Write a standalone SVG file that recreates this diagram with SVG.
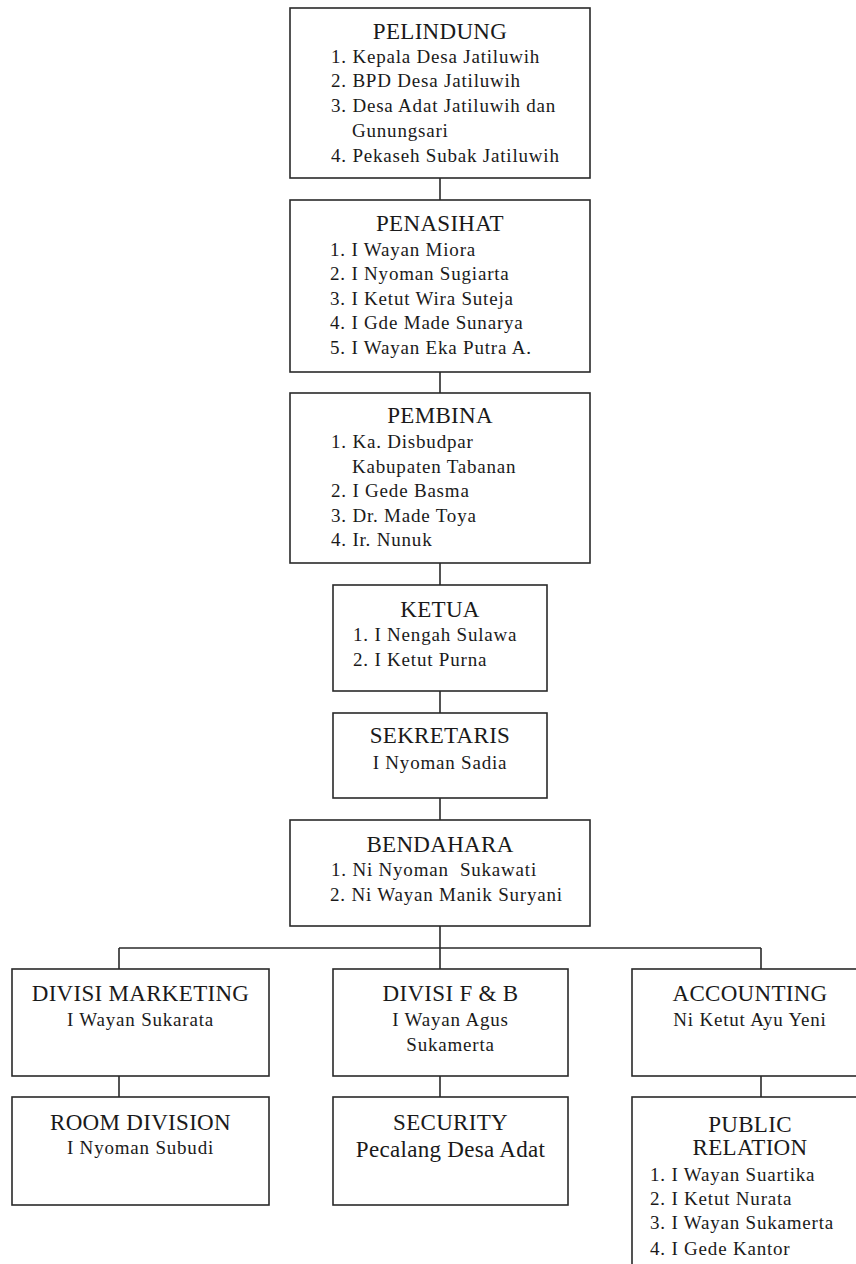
<svg xmlns="http://www.w3.org/2000/svg" width="856" height="1264" viewBox="0 0 856 1264">
  <style>
    .box { fill: #ffffff; stroke: #2a2a2a; stroke-width: 1.6; }
    .link { stroke: #2a2a2a; stroke-width: 1.6; fill: none; }
    text { font-family: "Liberation Serif", "Times New Roman", serif; fill: #1a1a1a; white-space: pre; }
    .title { font-size: 23px; letter-spacing: 0.3px; text-anchor: middle; }
    .item { font-size: 19px; letter-spacing: 0.8px; }
    .name { font-size: 19px; letter-spacing: 0.8px; text-anchor: middle; }
  </style>

  <rect width="856" height="1264" fill="#ffffff"/>

  <!-- connectors -->
  <g id="connectors">
    <line class="link" x1="440" y1="178" x2="440" y2="200"/>
    <line class="link" x1="440" y1="372" x2="440" y2="393"/>
    <line class="link" x1="440" y1="563" x2="440" y2="585"/>
    <line class="link" x1="440" y1="691" x2="440" y2="713"/>
    <line class="link" x1="440" y1="798" x2="440" y2="820"/>
    <line class="link" x1="440" y1="926" x2="440" y2="969"/>
    <line class="link" x1="119" y1="948" x2="761" y2="948"/>
    <line class="link" x1="119" y1="948" x2="119" y2="969"/>
    <line class="link" x1="761" y1="948" x2="761" y2="969"/>
    <line class="link" x1="119" y1="1076" x2="119" y2="1097"/>
    <line class="link" x1="440" y1="1076" x2="440" y2="1097"/>
    <line class="link" x1="761" y1="1076" x2="761" y2="1097"/>
  </g>

  <g id="pelindung">
    <rect class="box" x="290" y="8" width="300" height="170"/>
    <text class="title" x="440" y="39">PELINDUNG</text>
    <text class="item" x="331" y="63">1. Kepala Desa Jatiluwih</text>
    <text class="item" x="331" y="87">2. BPD Desa Jatiluwih</text>
    <text class="item" x="331" y="112">3. Desa Adat Jatiluwih dan</text>
    <text class="item" x="352" y="137">Gunungsari</text>
    <text class="item" x="331" y="162">4. Pekaseh Subak Jatiluwih</text>
  </g>

  <g id="penasihat">
    <rect class="box" x="290" y="200" width="300" height="172"/>
    <text class="title" x="440" y="231">PENASIHAT</text>
    <text class="item" x="330" y="256">1. I Wayan Miora</text>
    <text class="item" x="330" y="280">2. I Nyoman Sugiarta</text>
    <text class="item" x="330" y="305">3. I Ketut Wira Suteja</text>
    <text class="item" x="330" y="329">4. I Gde Made Sunarya</text>
    <text class="item" x="330" y="354">5. I Wayan Eka Putra A.</text>
  </g>

  <g id="pembina">
    <rect class="box" x="290" y="393" width="300" height="170"/>
    <text class="title" x="440" y="423">PEMBINA</text>
    <text class="item" x="331" y="448">1. Ka. Disbudpar</text>
    <text class="item" x="352" y="473">Kabupaten Tabanan</text>
    <text class="item" x="331" y="497">2. I Gede Basma</text>
    <text class="item" x="331" y="522">3. Dr. Made Toya</text>
    <text class="item" x="331" y="546">4. Ir. Nunuk</text>
  </g>

  <g id="ketua">
    <rect class="box" x="333" y="585" width="214" height="106"/>
    <text class="title" x="440" y="617">KETUA</text>
    <text class="item" x="353" y="641">1. I Nengah Sulawa</text>
    <text class="item" x="353" y="666">2. I Ketut Purna</text>
  </g>

  <g id="sekretaris">
    <rect class="box" x="333" y="713" width="214" height="85"/>
    <text class="title" x="440" y="743">SEKRETARIS</text>
    <text class="name" x="440" y="769">I Nyoman Sadia</text>
  </g>

  <g id="bendahara">
    <rect class="box" x="290" y="820" width="300" height="106"/>
    <text class="title" x="440" y="852">BENDAHARA</text>
    <text class="item" x="331" y="876">1. Ni Nyoman  Sukawati</text>
    <text class="item" x="330" y="901">2. Ni Wayan Manik Suryani</text>
  </g>

  <g id="divisi-marketing">
    <rect class="box" x="12" y="969" width="257" height="107"/>
    <text class="title" x="140.5" y="1001">DIVISI MARKETING</text>
    <text class="name" x="140.5" y="1026">I Wayan Sukarata</text>
  </g>

  <g id="room-division">
    <rect class="box" x="12" y="1097" width="257" height="108"/>
    <text class="title" x="140.5" y="1130">ROOM DIVISION</text>
    <text class="name" x="140.5" y="1154">I Nyoman Subudi</text>
  </g>

  <g id="divisi-fb">
    <rect class="box" x="333" y="969" width="235" height="107"/>
    <text class="title" x="450.5" y="1001">DIVISI F &amp; B</text>
    <text class="name" x="450.5" y="1026">I Wayan Agus</text>
    <text class="name" x="450.5" y="1051">Sukamerta</text>
  </g>

  <g id="security">
    <rect class="box" x="333" y="1097" width="235" height="108"/>
    <text class="title" x="450.5" y="1130">SECURITY</text>
    <text class="title" x="450.5" y="1157">Pecalang Desa Adat</text>
  </g>

  <g id="accounting">
    <rect class="box" x="632" y="969" width="236" height="107"/>
    <text class="title" x="750" y="1001">ACCOUNTING</text>
    <text class="name" x="750" y="1026">Ni Ketut Ayu Yeni</text>
  </g>

  <g id="public-relation">
    <rect class="box" x="632" y="1097" width="236" height="200"/>
    <text class="title" x="750" y="1132">PUBLIC</text>
    <text class="title" x="750" y="1155">RELATION</text>
    <text class="item" x="650" y="1181">1. I Wayan Suartika</text>
    <text class="item" x="650" y="1205">2. I Ketut Nurata</text>
    <text class="item" x="650" y="1229">3. I Wayan Sukamerta</text>
    <text class="item" x="650" y="1255">4. I Gede Kantor</text>
  </g>
</svg>
